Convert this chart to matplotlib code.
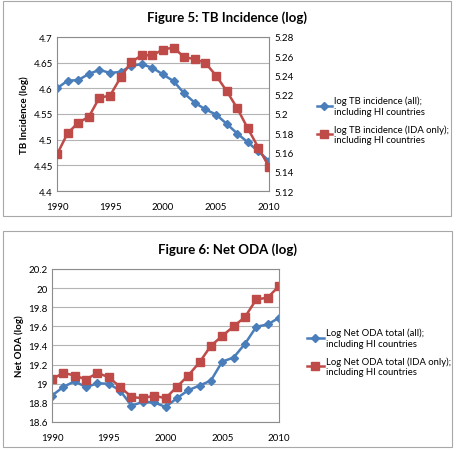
import matplotlib
matplotlib.use("Agg")
import matplotlib.pyplot as plt
from matplotlib.patches import Rectangle
from matplotlib.ticker import FuncFormatter, MultipleLocator

years = list(range(1990, 2011))

# Figure 5 data
tb_all = [4.600, 4.615, 4.616, 4.628, 4.636, 4.630, 4.632, 4.644, 4.647, 4.640,
          4.627, 4.614, 4.590, 4.572, 4.559, 4.549, 4.531, 4.512, 4.495, 4.477, 4.459]
tb_ida = [5.158, 5.180, 5.191, 5.197, 5.217, 5.219, 5.238, 5.254, 5.261, 5.261,
          5.267, 5.269, 5.259, 5.257, 5.253, 5.240, 5.224, 5.206, 5.185, 5.165, 5.145]

# Figure 6 data
oda_all = [18.876, 18.967, 19.026, 18.964, 19.005, 19.000, 18.928, 18.771, 18.810, 18.806,
           18.757, 18.848, 18.932, 18.981, 19.033, 19.232, 19.274, 19.417, 19.596, 19.620, 19.690]
oda_ida = [19.047, 19.114, 19.086, 19.044, 19.114, 19.068, 18.967, 18.862, 18.848, 18.876,
           18.848, 18.967, 19.086, 19.225, 19.397, 19.500, 19.600, 19.697, 19.882, 19.900, 20.022]

BLUE = "#4a7ebb"
RED = "#be4b48"
SPINE = "#8c8c8c"
GRID = "#b4b4b4"
plt.rcParams['font.family'] = ['Lato', 'DejaVu Sans']

W, H = 457, 452
fig = plt.figure(figsize=(W / 100, H / 100), dpi=100)

def fx(px):
    return px / W

def fy(py):
    return 1 - py / H

gfmt = FuncFormatter(lambda v, p: f"{v:g}")

def style_axis(ax):
    for s in ax.spines.values():
        s.set_color(SPINE)
        s.set_linewidth(0.8)
    ax.tick_params(axis="y", labelsize=7, length=0, pad=3)
    ax.tick_params(axis="x", labelsize=7, length=0, pad=8)
    ax.yaxis.grid(True, color=GRID, linewidth=0.8)
    ax.set_axisbelow(True)

# frames
fig.patches.append(Rectangle((fx(3), fy(217)), fx(448), 215 / H, transform=fig.transFigure,
                             fill=False, edgecolor="#a8a8a8", linewidth=0.8))
fig.patches.append(Rectangle((fx(3), fy(448)), fx(449), 216 / H, transform=fig.transFigure,
                             fill=False, edgecolor="#a8a8a8", linewidth=0.8))

# ---- Figure 5 ----
ax1 = fig.add_axes([fx(57), fy(192), fx(212), 154 / H])
style_axis(ax1)
l1, = ax1.plot(years, tb_all, color=BLUE, marker="D", markersize=4, linewidth=1.8,
               label="log TB incidence (all);\nincluding HI countries")
ax1.set_xlim(1990, 2010)
ax1.set_ylim(4.4, 4.7)
ax1.yaxis.set_major_locator(MultipleLocator(0.05))
ax1.yaxis.set_major_formatter(gfmt)
ax1.xaxis.set_major_locator(MultipleLocator(5))
ax1.set_ylabel("TB Incidence (log)", fontsize=7, fontweight="bold", labelpad=3)
ax1b = ax1.twinx()
l2, = ax1b.plot(years, tb_ida, color=RED, marker="s", markersize=5.5, linewidth=1.8,
                label="log TB incidence (IDA only);\nincluding HI countries")
ax1b.set_ylim(5.12, 5.28)
ax1b.yaxis.set_major_locator(MultipleLocator(0.02))
ax1b.yaxis.set_major_formatter(gfmt)
ax1b.tick_params(labelsize=7, length=0, pad=4)
for s in ax1b.spines.values():
    s.set_visible(False)
fig.text(fx(227), fy(18), "Figure 5: TB Incidence (log)", fontsize=9.5, fontweight="bold",
         ha="center", va="center")
fig.legend(handles=[l1, l2], loc="center left", bbox_to_anchor=(fx(312), fy(121)),
           frameon=False, fontsize=6.8, handlelength=1.6, handletextpad=0.2,
           labelspacing=0.9, borderpad=0)

# ---- Figure 6 ----
ax2 = fig.add_axes([fx(52), fy(423), fx(227), 153 / H])
style_axis(ax2)
m1, = ax2.plot(years, oda_all, color=BLUE, marker="D", markersize=4.5, linewidth=1.8,
               label="Log Net ODA total (all);\nincluding HI countries")
m2, = ax2.plot(years, oda_ida, color=RED, marker="s", markersize=6, linewidth=1.8,
               label="Log Net ODA total (IDA only);\nincluding HI countries")
ax2.set_xlim(1990, 2010)
ax2.set_ylim(18.6, 20.2)
ax2.yaxis.set_major_locator(MultipleLocator(0.2))
ax2.yaxis.set_major_formatter(gfmt)
ax2.xaxis.set_major_locator(MultipleLocator(5))
ax2.set_ylabel("Net ODA (log)", fontsize=7, fontweight="bold", labelpad=3)
fig.text(fx(227), fy(250), "Figure 6: Net ODA (log)", fontsize=9.5, fontweight="bold",
         ha="center", va="center")
fig.legend(handles=[m1, m2], loc="center left", bbox_to_anchor=(fx(302), fy(353)),
           frameon=False, fontsize=6.8, handlelength=1.8, handletextpad=0.2,
           labelspacing=0.9, borderpad=0)

fig.savefig("out.png", dpi=100)
